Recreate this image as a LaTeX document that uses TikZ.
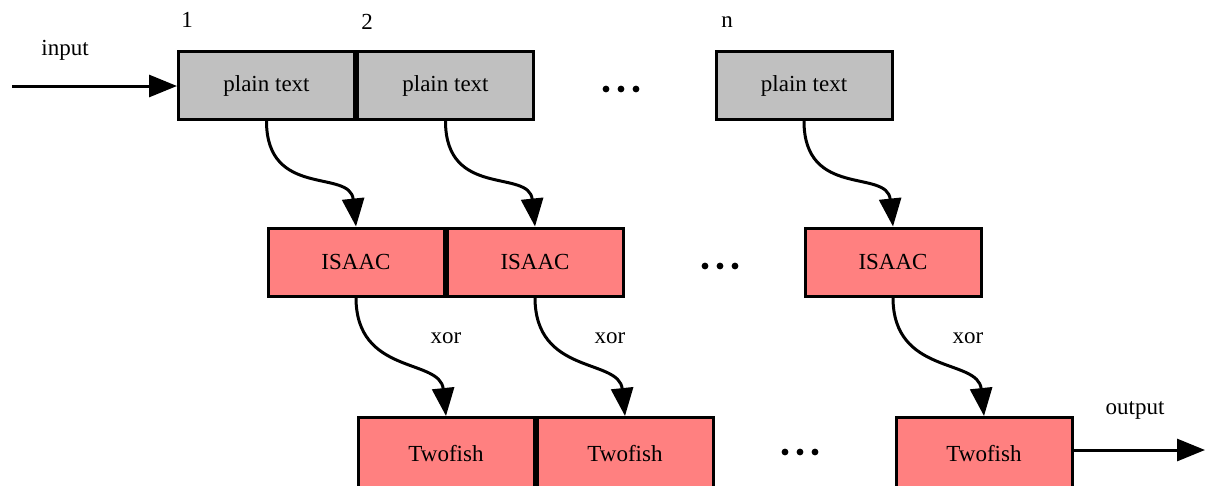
\documentclass[tikz,border=0pt]{standalone}
\usepackage{fontspec}
\setmainfont{Liberation Serif}
\usetikzlibrary{arrows.meta,calc}
\definecolor{plaingray}{HTML}{C0C0C0}
\definecolor{cipherred}{HTML}{FF8080}
\begin{document}
\begin{tikzpicture}[x=1pt,y=-1pt,
  font=\fontsize{23}{27}\selectfont,
  blk/.style={draw=black, line width=3pt, minimum width=176pt, minimum height=68pt, inner sep=0pt},
  plainbox/.style={blk, fill=plaingray},
  redbox/.style={blk, fill=cipherred},
  lowbox/.style={redbox, minimum height=74pt},
  conn/.style={line width=3pt, -{Triangle[length=28pt,width=22pt]}},
  lbl/.style={inner sep=0pt},
  dotc/.style={fill=black, draw=none}]
\useasboundingbox (0,0) rectangle (1212,485);
% row 1
\node[plainbox] (p1) at (266.5,85.5) {plain text};
\node[plainbox] (p2) at (445.5,85.5) {plain text};
\node[plainbox] (pn) at (804,85.5) {plain text};
% row 2
\node[redbox] (i1) at (356,262) {ISAAC};
\node[redbox] (i2) at (535,262) {ISAAC};
\node[redbox] (in) at (893,262) {ISAAC};
% row 3
\node[lowbox] (t1) at (446,454.5) {\raisebox{3pt}{Twofish}};
\node[lowbox] (t2) at (625,454.5) {\raisebox{3pt}{Twofish}};
\node[lowbox] (tn) at (984,454.5) {\raisebox{3pt}{Twofish}};
% labels
\node[lbl] (l1) at (187,20) {1};
\node[lbl] (l2) at (367,22) {2};
\node[lbl] (ln) at (727,22) {n};
\node[lbl] (linput) at (65,50) {input};
\node[lbl] (loutput) at (1135,410) {output};
\node[lbl] (x1) at (446,338) {xor};
\node[lbl] (x2) at (610,338) {xor};
\node[lbl] (xn) at (968,338) {xor};
% dots
\foreach \cx/\cy in {621/89, 720/266, 800/452}{
  \fill[dotc] (\cx-15,\cy) circle (3.4pt) (\cx,\cy) circle (3.4pt) (\cx+15,\cy) circle (3.4pt);
}
% input / output
\coordinate (src) at (12,86);
\coordinate (dst) at (1205,450);
\draw[conn] (src) -- (src -| p1.west);
\draw[conn] (dst -| tn.east) -- (dst);
% curved connectors
\foreach \a/\b in {p1/i1, p2/i2, pn/in, i1/t1, i2/t2, in/tn}{
  \draw[conn] (\a.south) .. controls +(0,78) and +(-6,-58) .. (\b.north);
}
\end{tikzpicture}
\end{document}
